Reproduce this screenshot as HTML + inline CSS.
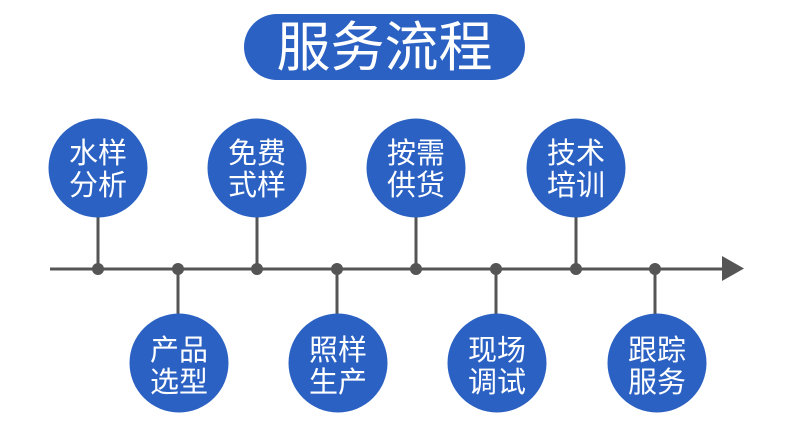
<!DOCTYPE html>
<html><head><meta charset="utf-8"><style>
body{margin:0;background:#fff;width:790px;height:434px;overflow:hidden;font-family:"Liberation Sans","Noto Sans CJK SC",sans-serif;}
</style></head><body>
<svg width="790" height="434" xmlns="http://www.w3.org/2000/svg" font-family="Liberation Sans, Noto Sans CJK SC, sans-serif">
<rect x="244" y="14" width="281" height="66" rx="33" fill="#2a61c3"/>
<text x="384.5" y="66" font-size="54" fill="#fff" text-anchor="middle">服务流程</text>
<g stroke="#555" stroke-width="3">
<line x1="50" y1="269" x2="725" y2="269"/>
<line x1="98" y1="210" x2="98" y2="269"/>
<line x1="257" y1="210" x2="257" y2="269"/>
<line x1="416" y1="210" x2="416" y2="269"/>
<line x1="576" y1="210" x2="576" y2="269"/>
<line x1="178" y1="269" x2="178" y2="320"/>
<line x1="337" y1="269" x2="337" y2="320"/>
<line x1="496" y1="269" x2="496" y2="320"/>
<line x1="655" y1="269" x2="655" y2="320"/>
</g>
<polygon points="722,256 744,268.5 722,281" fill="#555"/>
<g fill="#555">
<circle cx="98" cy="269" r="6"/><circle cx="178" cy="269" r="6"/><circle cx="257" cy="269" r="6"/><circle cx="337" cy="269" r="6"/><circle cx="416" cy="269" r="6"/><circle cx="496" cy="269" r="6"/><circle cx="576" cy="269" r="6"/><circle cx="655" cy="269" r="6"/>
</g>
<g fill="#2a61c3">
<circle cx="98" cy="168" r="49.5"/><circle cx="257" cy="168" r="49.5"/><circle cx="416" cy="168" r="49.5"/><circle cx="576" cy="168" r="49.5"/>
<circle cx="179" cy="363" r="49.5"/><circle cx="338" cy="363" r="49.5"/><circle cx="497" cy="363" r="49.5"/><circle cx="657" cy="363" r="49.5"/>
</g>
<g fill="#fff" font-size="29" text-anchor="middle">
<text x="98" y="163">水样</text><text x="98" y="195">分析</text>
<text x="257" y="163">免费</text><text x="257" y="195">式样</text>
<text x="416" y="163">按需</text><text x="416" y="195">供货</text>
<text x="576" y="163">技术</text><text x="576" y="195">培训</text>
<text x="179" y="360">产品</text><text x="179" y="392">选型</text>
<text x="338" y="360">照样</text><text x="338" y="392">生产</text>
<text x="497" y="360">现场</text><text x="497" y="392">调试</text>
<text x="657" y="360">跟踪</text><text x="657" y="392">服务</text>
</g>
</svg>
</body></html>
